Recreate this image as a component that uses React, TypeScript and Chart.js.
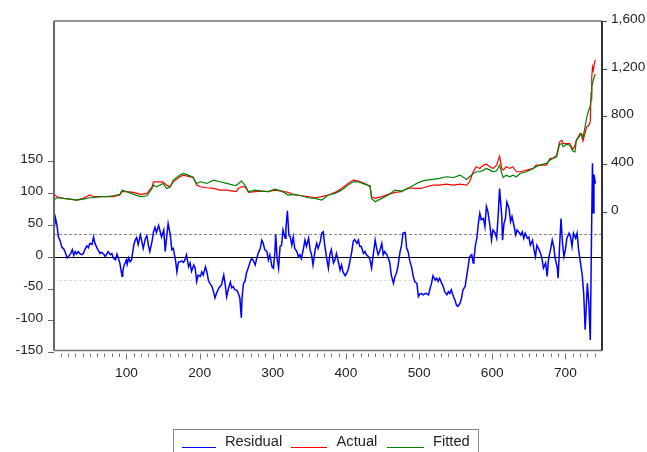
import React, { useEffect, useRef } from 'react';
import { Chart, registerables } from 'chart.js';

Chart.register(...registerables);

// ---- Data ----
const residualObs = [
  1, 3, 5, 7, 9, 12, 14, 16, 19, 22,
  24, 26, 28, 30, 32, 34, 37, 39, 41, 44,
  46, 48, 50, 53, 55, 57, 60, 62, 64, 66,
  69, 71, 73, 75, 78, 80, 82, 85, 87, 89,
  91, 94, 95, 97, 100, 101, 103, 105, 107, 110,
  112, 114, 116, 119, 121, 123, 126, 128, 130, 132,
  135, 137, 139, 141, 144, 146, 148, 151, 153, 155,
  157, 160, 162, 164, 167, 169, 171, 173, 176, 178,
  180, 182, 185, 187, 189, 192, 194, 196, 198, 201,
  203, 205, 208, 210, 212, 214, 217, 219, 221, 223,
  226, 228, 230, 233, 235, 237, 239, 242, 244, 246,
  248, 251, 253, 255, 257, 258, 260, 262, 264, 267,
  269, 271, 273, 276, 278, 280, 283, 285, 287, 289,
  292, 294, 296, 299, 301, 303, 304, 306, 308, 310,
  312, 314, 317, 318, 320, 322, 324, 326, 328, 330,
  333, 335, 337, 339, 342, 344, 346, 349, 351, 353,
  355, 358, 360, 362, 365, 367, 369, 371, 374, 376,
  378, 380, 383, 385, 387, 390, 392, 394, 396, 399,
  401, 403, 405, 408, 410, 412, 415, 417, 419, 421,
  424, 426, 428, 431, 433, 435, 437, 440, 442, 444,
  446, 449, 451, 453, 456, 458, 460, 462, 465, 467,
  469, 471, 474, 476, 478, 481, 483, 485, 487, 490,
  492, 494, 497, 499, 501, 503, 506, 508, 510, 513,
  515, 517, 519, 522, 524, 526, 528, 531, 533, 535,
  538, 540, 542, 544, 547, 549, 551, 553, 556, 558,
  560, 563, 565, 567, 569, 572, 574, 575, 577, 579,
  581, 583, 585, 588, 590, 592, 594, 597, 599, 601,
  604, 606, 608, 610, 613, 614, 616, 618, 620, 623,
  625, 627, 630, 632, 634, 636, 639, 641, 643, 645,
  648, 650, 652, 655, 657, 659, 661, 664, 666, 668,
  670, 673, 675, 677, 680, 682, 684, 686, 689, 690,
  692, 694, 696, 698, 700, 702, 705, 707, 709, 711,
  714, 716, 718, 721, 723, 725, 727, 730, 732, 734,
  736, 737, 738, 739, 741,
];
const residualValues = [
  42, 62, 51, 32, 27, 15, 14, 9, -1, 3,
  6, 12, 3, 9, 5, 9, 5, 4, 6, 14,
  18, 15, 22, 20, 32, 22, 14, 10, 6, 8,
  5, 1, 5, 9, 4, 6, -1, -4, 5, -2,
  -9, -30, -22, -12, -4, -11, -1, -7, -4, 19,
  27, 31, 20, 35, 25, 14, 30, 34, 19, 9,
  25, 40, 47, 39, 50, 41, 32, 43, 9, 32,
  53, 35, 12, 14, -4, -23, -8, -7, -6, -8,
  -4, 4, -15, -9, -22, -12, -17, -38, -28, -30,
  -23, -28, -15, -23, -36, -41, -46, -54, -64, -57,
  -49, -46, -43, -28, -43, -62, -51, -39, -48, -46,
  -51, -52, -57, -64, -95, -64, -41, -38, -25, -15,
  -7, -2, -4, -12, -2, 6, 14, 27, 22, 12,
  9, -4, 4, -15, -17, 9, 36, -2, -17, 17,
  19, 43, 30, 46, 73, 35, 32, 19, 32, 14,
  9, 1, 4, -2, 14, 27, 17, 30, 12, 4,
  -12, 12, 22, 14, 25, 38, 40, 19, -4, -17,
  4, 12, -9, -4, 6, -9, -20, -12, -23, -29,
  -25, -20, -9, 9, 25, 28, 22, 27, 17, 17,
  6, 9, 4, 1, -4, -17, 1, 27, 14, 4,
  9, 22, 4, 9, 4, -2, -9, -28, -41, -30,
  -25, -15, 9, 19, 38, 39, 14, 9, -4, -17,
  -30, -38, -41, -62, -58, -57, -59, -57, -57, -59,
  -49, -41, -29, -36, -33, -38, -33, -41, -46, -54,
  -59, -54, -57, -51, -62, -67, -75, -77, -72, -64,
  -51, -46, -30, -15, 1, 4, -9, -2, 19, 30,
  53, 69, 59, 61, 48, 80, 72, 48, 27, 43,
  38, 30, 64, 108, 64, 27, 53, 61, 87, 77,
  56, 64, 48, 35, 43, 40, 35, 40, 30, 38,
  30, 32, 19, 27, 12, 1, 19, 12, 6, -2,
  -17, -9, -30, -2, 14, 27, 17, -2, -17, -33,
  17, 61, 22, 1, 12, 30, 38, 32, 17, 38,
  30, 38, 12, -12, -28, -57, -114, -41, -72, -130,
  64, 148, 70, 130, 116,
];

const levelObs = [
  1, 5, 14, 23, 32, 41, 50, 55, 64, 73,
  82, 91, 94, 100, 110, 119, 128, 135, 137, 141,
  150, 155, 160, 164, 173, 178, 187, 191, 196, 201,
  210, 219, 228, 237, 246, 250, 253, 257, 262, 267,
  276, 285, 294, 303, 312, 321, 330, 339, 348, 358,
  367, 376, 385, 394, 403, 410, 417, 426, 433, 435,
  440, 449, 458, 467, 476, 485, 494, 503, 510, 519,
  528, 537, 547, 556, 565, 569, 574, 578, 583, 588,
  592, 597, 601, 606, 610, 613, 615, 619, 624, 628,
  633, 638, 647, 656, 660, 665, 674, 679, 683, 688,
  692, 695, 697, 701, 706, 710, 713, 715, 720, 722,
  724, 729, 732, 734, 735, 736, 737, 738, 740, 741,
];
const actualValues = [
  152, 130, 117, 111, 103, 117, 145, 131, 131, 131,
  131, 145, 173, 173, 167, 150, 159, 214, 256, 256,
  256, 228, 214, 256, 298, 312, 298, 298, 228, 214,
  206, 200, 186, 186, 178, 173, 200, 214, 214, 167,
  173, 178, 173, 186, 178, 167, 145, 139, 131, 122,
  131, 145, 167, 200, 242, 270, 262, 242, 214, 131,
  117, 131, 150, 167, 173, 206, 200, 200, 214, 228,
  228, 236, 228, 236, 228, 256, 340, 382, 368, 396,
  404, 382, 368, 396, 471, 368, 354, 382, 368, 382,
  340, 340, 354, 368, 396, 396, 396, 452, 452, 480,
  590, 604, 577, 576, 577, 528, 563, 604, 660, 646,
  598, 716, 730, 760, 1000, 1135, 1218, 1190, 1260, 1280,
];
const fittedValues = [
  105, 122, 117, 111, 103, 111, 122, 122, 131, 131,
  139, 150, 186, 173, 150, 131, 139, 200, 228, 214,
  242, 200, 214, 270, 312, 326, 306, 290, 242, 256,
  242, 270, 256, 242, 228, 225, 240, 262, 228, 173,
  186, 178, 173, 195, 178, 145, 150, 139, 122, 117,
  103, 145, 159, 186, 228, 256, 256, 234, 223, 117,
  89, 117, 145, 186, 178, 200, 234, 259, 270, 276,
  284, 298, 292, 312, 276, 298, 326, 340, 340, 354,
  368, 354, 340, 348, 396, 326, 292, 312, 298, 312,
  298, 326, 340, 368, 382, 396, 410, 438, 452, 466,
  570, 577, 549, 570, 563, 514, 507, 604, 646, 660,
  625, 790, 860, 890, 950, 1051, 1078, 1107, 1148, 1160,
];

const residualTicks = [-150, -100, -50, 0, 50, 100, 150];
const levelTicks = [0, 400, 800, 1200, 1600];
const obsTicks = [100, 200, 300, 400, 500, 600, 700];
const residualSD = 36;

const FONT = 'Liberation Sans, Arial, Helvetica, sans-serif';
const FRAME_LIFT = 2.2; // plot frame sits slightly above the lowest tick

const decorPlugin = {
  id: 'decor',
  beforeDatasetsDraw(chart: any) {
    const { ctx, chartArea: a, scales } = chart;
    const yL = scales.yL;
    ctx.save();
    ctx.lineWidth = 1;
    ctx.setLineDash([3, 2]);
    ctx.strokeStyle = '#8a8a8a';
    let y = Math.round(yL.getPixelForValue(residualSD)) + 0.5;
    ctx.beginPath(); ctx.moveTo(a.left, y); ctx.lineTo(a.right, y); ctx.stroke();
    ctx.strokeStyle = '#dcdcdc';
    y = Math.round(yL.getPixelForValue(-residualSD)) + 0.5;
    ctx.beginPath(); ctx.moveTo(a.left, y); ctx.lineTo(a.right, y); ctx.stroke();
    ctx.setLineDash([]);
    ctx.strokeStyle = '#000';
    y = Math.round(yL.getPixelForValue(0)) + 0.5;
    ctx.beginPath(); ctx.moveTo(a.left, y); ctx.lineTo(a.right, y); ctx.stroke();
    ctx.restore();
  },
  afterDraw(chart: any) {
    const { ctx, chartArea: a, scales } = chart;
    const bottom = a.bottom - FRAME_LIFT;
    ctx.save();
    // frame
    ctx.strokeStyle = '#707070';
    ctx.lineWidth = 1.5;
    ctx.beginPath(); ctx.moveTo(a.left, a.top); ctx.lineTo(a.right, a.top); ctx.stroke();
    ctx.beginPath(); ctx.moveTo(a.left, bottom); ctx.lineTo(a.right, bottom); ctx.stroke();
    ctx.lineWidth = 2;
    ctx.strokeStyle = '#666';
    ctx.beginPath(); ctx.moveTo(a.left, a.top); ctx.lineTo(a.left, bottom); ctx.stroke();
    ctx.strokeStyle = '#333';
    ctx.beginPath(); ctx.moveTo(a.right, a.top); ctx.lineTo(a.right, bottom); ctx.stroke();
    // x ticks (minor every 10, major every 100)
    ctx.strokeStyle = '#777';
    ctx.lineWidth = 1;
    const x = scales.x;
    for (let v = 10; v <= 740; v += 10) {
      const px = Math.round(x.getPixelForValue(v)) + 0.5;
      const len = v % 100 === 0 ? 6 : 3.5;
      ctx.beginPath();
      ctx.moveTo(px, bottom + 3);
      ctx.lineTo(px, bottom + 3 + len);
      ctx.stroke();
    }
    ctx.restore();
  },
};

function toPoints(xs: number[], ys: number[]) {
  return xs.map((x, i) => ({ x, y: ys[i] }));
}

export default function App() {
  const ref = useRef<HTMLCanvasElement | null>(null);

  useEffect(() => {
    if (!ref.current) return;
    const tickFont = { family: FONT, size: 13.7 };
    const chart = new Chart(ref.current, {
      type: 'line',
      data: {
        datasets: [
          {
            label: 'Residual',
            data: toPoints(residualObs, residualValues),
            yAxisID: 'yL',
            borderColor: '#0000ff',
            borderWidth: 1.5,
            pointRadius: 0,
            tension: 0,
            order: 2,
          },
          {
            label: 'Actual',
            data: toPoints(levelObs, actualValues),
            yAxisID: 'yR',
            borderColor: '#ff0000',
            borderWidth: 1.2,
            pointRadius: 0,
            tension: 0,
            order: 1,
          },
          {
            label: 'Fitted',
            data: toPoints(levelObs, fittedValues),
            yAxisID: 'yR',
            borderColor: '#008000',
            borderWidth: 1.2,
            pointRadius: 0,
            tension: 0,
            order: 0,
          },
        ],
      },
      options: {
        responsive: false,
        animation: false,
        devicePixelRatio: 1,
        layout: { padding: { top: 21, left: 0, right: 0, bottom: 0 } },
        plugins: { legend: { display: false }, tooltip: { enabled: false } },
        scales: {
          x: {
            type: 'linear',
            position: 'bottom',
            min: 1,
            max: 750,
            grid: { display: false },
            border: { display: false },
            ticks: { font: tickFont, color: '#222', padding: 4, maxRotation: 0 },
            afterBuildTicks: (s: any) => { s.ticks = obsTicks.map((v) => ({ value: v })); },
            afterFit: (s: any) => { s.height = 99.3; },
          },
          yL: {
            type: 'linear',
            position: 'left',
            min: -150,
            max: 371.5,
            grid: { drawOnChartArea: false, drawTicks: true, tickLength: 6, color: '#666' },
            border: { display: false },
            ticks: { font: tickFont, color: '#222', padding: 5, labelOffset: -2.5 },
            afterBuildTicks: (s: any) => { s.ticks = residualTicks.map((v) => ({ value: v })); },
            afterFit: (s: any) => { s.width = 54; },
          },
          yR: {
            type: 'linear',
            position: 'right',
            min: -1178,
            max: 1605,
            grid: { drawOnChartArea: false, drawTicks: true, tickLength: 5, color: '#444' },
            border: { display: false },
            ticks: {
              font: tickFont,
              color: '#222',
              padding: 4,
              labelOffset: -2.5,
              callback: (v: any) => Number(v).toLocaleString('en-US'),
            },
            afterBuildTicks: (s: any) => { s.ticks = levelTicks.map((v) => ({ value: v })); },
            afterFit: (s: any) => { s.width = 45; },
          },
        },
      },
      plugins: [decorPlugin],
    });
    return () => chart.destroy();
  }, []);

  const legendFont: React.CSSProperties = {
    position: 'absolute',
    fontFamily: FONT,
    fontSize: '14.7px',
    lineHeight: '14.7px',
    color: '#222',
    whiteSpace: 'nowrap',
  };
  const sample = (left: number, width: number, color: string): React.CSSProperties => ({
    position: 'absolute',
    left,
    top: 446.5,
    width,
    height: 0,
    borderTop: `1.5px solid ${color}`,
  });

  return (
    <div style={{ position: 'fixed', left: 0, top: 0, width: 647, height: 452, overflow: 'hidden', background: '#fff' }}>
      <canvas ref={ref} width={647} height={452} style={{ position: 'absolute', left: 0, top: 0 }} />
      <div
        style={{
          position: 'absolute',
          left: 172.5,
          top: 429,
          width: 306.5,
          height: 40,
          boxSizing: 'border-box',
          border: '1.5px solid #888',
        }}
      />
      <div style={sample(182, 34, '#0000ff')} />
      <span style={{ ...legendFont, left: 225, top: 433.5 }}>Residual</span>
      <div style={sample(291, 36, '#ff0000')} />
      <span style={{ ...legendFont, left: 336.5, top: 433.5 }}>Actual</span>
      <div style={sample(387, 37, '#008000')} />
      <span style={{ ...legendFont, left: 433, top: 433.5 }}>Fitted</span>
    </div>
  );
}
